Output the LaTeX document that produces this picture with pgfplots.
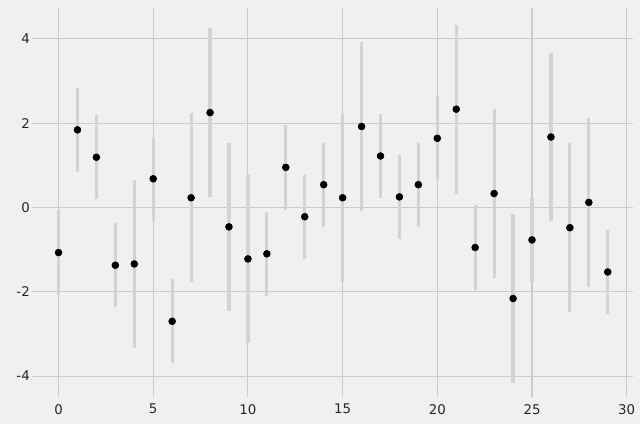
\documentclass[border=0pt]{standalone}
\usepackage{pgfplots}
\pgfplotsset{compat=1.18}
\usepackage{fontspec}
\setmainfont{DejaVu Sans}
\definecolor{bgc}{HTML}{F0F0F0}
\definecolor{gridc}{HTML}{CBCBCB}
\definecolor{errc}{HTML}{D3D3D3}
\pgfplotstableread{
x y err
0 -1.07 1.0
1 1.84 1.0
2 1.19 1.0
3 -1.37 1.0
4 -1.34 2.0
5 0.68 1.0
6 -2.70 1.0
7 0.23 2.0
8 2.25 2.0
9 -0.46 2.0
10 -1.22 2.0
11 -1.10 1.0
12 0.95 1.0
13 -0.22 1.0
14 0.54 1.0
15 0.23 2.0
16 1.92 2.0
17 1.22 1.0
18 0.25 1.0
19 0.54 1.0
20 1.64 1.0
21 2.33 2.0
22 -0.95 1.0
23 0.33 2.0
24 -2.16 2.0
25 -0.77 1.0
26 1.67 2.0
27 -0.48 2.0
28 0.12 2.0
29 -1.53 1.0
}\datatable
\begin{document}
\begin{tikzpicture}
\fill[bgc] (-24pt,-20.25pt) rectangle (455.75pt,297.75pt);
\useasboundingbox (-24pt,-20.25pt) rectangle (455.75pt,297.75pt);
\begin{axis}[
  at={(0,0)}, anchor=south west,
  scale only axis,
  width=450.75pt, height=291.75pt,
  xmin=-1.4, xmax=30.35,
  ymin=-4.5, ymax=4.73,
  axis line style={draw=none},
  axis background/.style={fill=bgc},
  xtick={0,5,...,30},
  ytick={-4,-2,0,2,4},
  major tick length=0pt,
  grid=major,
  major grid style={gridc, line width=0.8pt},
  tick label style={font=\fontsize{10}{12}\selectfont, text=black!85},
  xticklabel style={inner sep=0pt, yshift=-5pt},
  yticklabel style={inner sep=0pt, xshift=-1.5pt},
  /pgf/number format/assume math mode=true,
  clip=false,
]
\addplot[only marks, mark=*, mark size=2.6pt, mark options={fill=black, draw=black},
  error bars/.cd, y dir=both, y explicit,
  error bar style={errc, line width=2.4pt},
  error mark=none]
  table[x=x, y=y, y error=err] {\datatable};
\end{axis}
\end{tikzpicture}
\end{document}
